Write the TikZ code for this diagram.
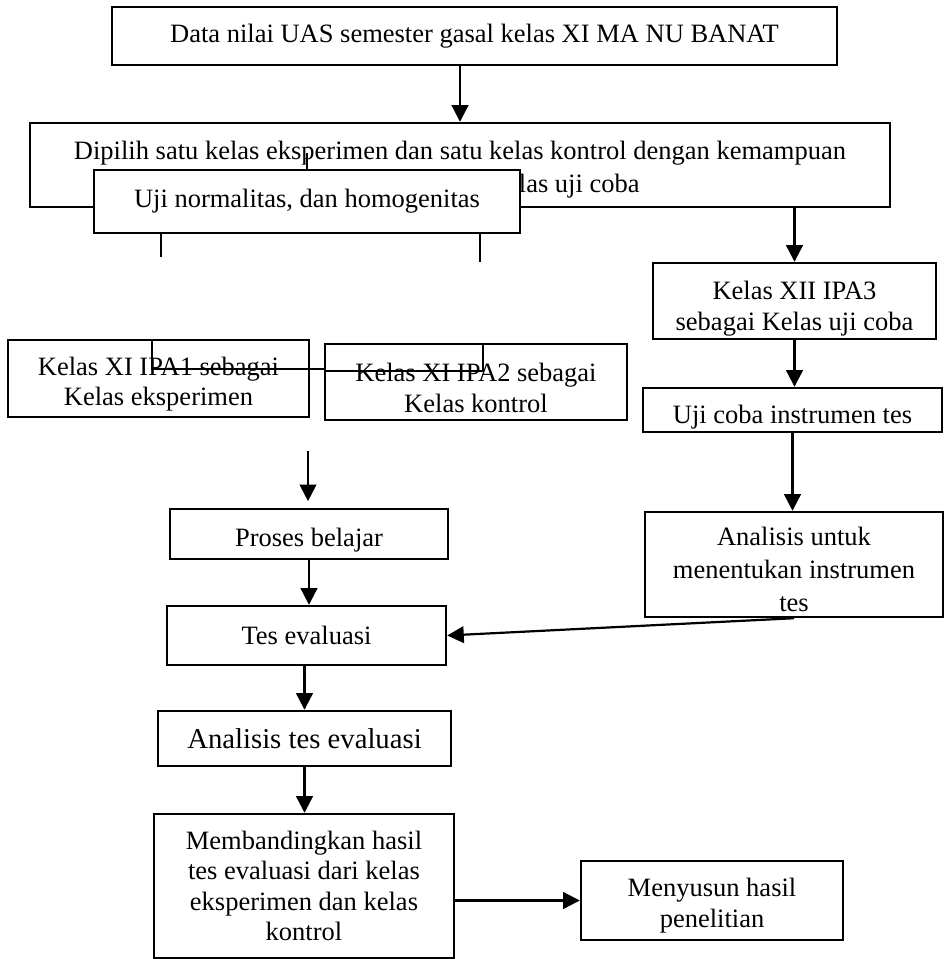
\documentclass[tikz,border=0pt]{standalone}
\usepackage{fontspec}
\setmainfont{Liberation Serif}
\usetikzlibrary{arrows.meta}
\def\px{0.4528pt}
\newcommand\tinggi[1]{\rule{0pt}{#1pt}}
\tikzstyle{kotak} = [
  draw,
  line width=1.1pt,
  fill=white,
  align=center,
  inner sep=0pt,
  font=\fontsize{12}{13.8}\selectfont,
]
\tikzstyle{panah} = [line width=1pt, -{Triangle[length=7.5pt,width=7.5pt]}]
\tikzstyle{garis} = [line width=0.6pt]
\tikzset{ukuran/.style 2 args={minimum width=#1*\px, minimum height=#2*\px}}

\begin{document}
\begin{tikzpicture}[x=\px, y=-\px]
      \useasboundingbox (0,0) rectangle (945,959);

      % Boxes
      \node[kotak, ukuran={725}{58}] (data) at (474.5,36)
        {Data nilai UAS semester gasal kelas XI MA NU BANAT};
      \node[kotak, ukuran={860}{84}, font=\fontsize{12}{15}\selectfont] (pilih) at (460,165)
        {\tinggi{12.8}Dipilih satu kelas eksperimen dan satu kelas kontrol dengan kemampuan\\
         \hspace*{108pt}las uji coba};
      \node[kotak, ukuran={426}{63}] (uji) at (307,201.5) {Uji normalitas, dan homogenitas};
      \node[kotak, ukuran={283}{76}] (xii) at (794.5,301) {\tinggi{15.4}Kelas XII IPA3\\sebagai Kelas uji coba};
      \node[kotak, ukuran={299}{44}] (ujicoba) at (792.5,410) {\tinggi{14.5}Uji coba instrumen tes};
      \node[kotak, ukuran={298}{105}, font=\fontsize{12}{15}\selectfont] (anauntuk) at (794,564.5)
        {\tinggi{12.8}Analisis untuk\\menentukan instrumen\\tes};
      \node[kotak, ukuran={301}{77}] (ipa1) at (158.5,378.5) {\tinggi{13.6}Kelas XI IPA1 sebagai\\Kelas eksperimen};
      \node[kotak, ukuran={302}{76}] (ipa2) at (476,382) {\tinggi{13.6}Kelas XI IPA2 sebagai\\Kelas kontrol};
      \node[kotak, ukuran={278}{50}] (proses) at (309,534) {\tinggi{13.6}Proses belajar};
      \node[kotak, ukuran={279}{59}] (tes) at (306.5,635.5) {Tes evaluasi};
      \node[kotak, ukuran={293}{55}, font=\fontsize{13}{15}\selectfont] (anates) at (304.5,738.5)
        {Analisis tes evaluasi};
      \node[kotak, ukuran={300}{144}] (banding) at (304,886)
        {Membandingkan hasil\\tes evaluasi dari kelas\\eksperimen dan kelas\\kontrol};
      \node[kotak, ukuran={262}{79}] (susun) at (712,900.5) {\tinggi{12.8}Menyusun hasil\\penelitian};

      % Arrows
      \draw[panah] (pilih.north |- data.south) -- (pilih.north);
      \draw[panah] (xii.north |- pilih.south) -- (xii.north);
      \draw[panah] (xii.south) -- (xii.south |- ujicoba.north);
      \draw[panah] (ujicoba.south) -- (ujicoba.south |- anauntuk.north);
      \draw[panah] (anauntuk.south) -- (tes.east);
      \coordinate (awal) at (308,451);
      \draw[panah, shorten >=3pt] (awal) -- (awal |- proses.north);
      \draw[panah] (proses.south) -- (proses.south |- tes.north);
      \draw[panah] (anates.north |- tes.south) -- (anates.north);
      \draw[panah] (anates.south) -- (anates.south |- banding.north);
      \draw[panah] (banding.east |- susun.west) -- (susun.west);

      % Loose lines
      \draw[garis] (uji.north) -- ++(0,-16);
      \draw[garis] (161,0 |- uji.south) -- (161,257);
      \draw[garis] (480,0 |- uji.south) -- (480,262);
      \draw[garis] (152,339) -- (152,369) -- (325,369);
      \draw[garis] (325,371) -- (483,371) -- (483,0 |- ipa2.north);
    \end{tikzpicture}
\end{document}
